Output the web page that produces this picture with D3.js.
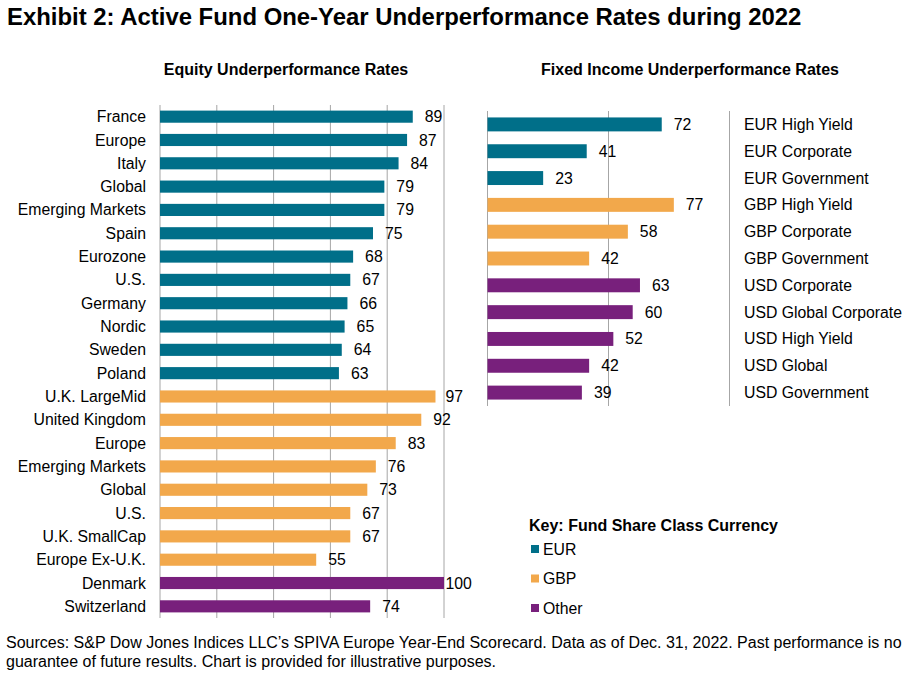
<!DOCTYPE html>
<html>
<head>
<meta charset="utf-8">
<script src="https://cdn.jsdelivr.net/npm/d3@7"></script>
<style>
	body { margin: 0; background: #fff; }
	text { font-family: "Liberation Sans", Arial, sans-serif; fill: #000; }
</style>
</head>
<body>
<div id="chart"></div>
<script>

const equityCats = ["France", "Europe", "Italy", "Global", "Emerging Markets", "Spain", "Eurozone", "U.S.", "Germany", "Nordic", "Sweden", "Poland",
	"U.K. LargeMid", "United Kingdom", "Europe ", "Emerging Markets ", "Global ", "U.S. ", "U.K. SmallCap", "Europe Ex-U.K.", "Denmark", "Switzerland"];
const equityVals = [89, 87, 84, 79, 79, 75, 68, 67, 66, 65, 64, 63, 97, 92, 83, 76, 73, 67, 67, 55, 100, 74];
const equityGroup = ["EUR", "EUR", "EUR", "EUR", "EUR", "EUR", "EUR", "EUR", "EUR", "EUR", "EUR", "EUR",
	"GBP", "GBP", "GBP", "GBP", "GBP", "GBP", "GBP", "GBP", "Other", "Other"];

const fixedCats = ["EUR High Yield", "EUR Corporate", "EUR Government", "GBP High Yield", "GBP Corporate", "GBP Government",
	"USD Corporate", "USD Global Corporate", "USD High Yield", "USD Global", "USD Government"];
const fixedVals = [72, 41, 23, 77, 58, 42, 63, 60, 52, 42, 39];
const fixedGroup = ["EUR", "EUR", "EUR", "GBP", "GBP", "GBP", "Other", "Other", "Other", "Other", "Other"];

const legendKeys = ["EUR", "GBP", "Other"];
const equityTicks = [0, 20, 40, 60, 80, 100];
const fixedTicks = [0, 50, 100];

const colour = d3.scaleOrdinal()
	.domain(legendKeys)
	.range(["#006f89", "#f2a84b", "#78207c"]);

const width = 924, height = 682;
const gridColour = "#a6a6a6";
const labelSize = "15.8px";

const svg = d3.select("#chart").append("svg")
	.attr("width", width)
	.attr("height", height);

// title
svg.append("text")
	.attr("x", 7).attr("y", 25)
	.style("font-size", "23.9px").style("font-weight", "bold")
	.text("Exhibit 2: Active Fund One-Year Underperformance Rates during 2022");

svg.append("text")
	.attr("x", 286).attr("y", 75).attr("text-anchor", "middle")
	.style("font-size", "16px").style("font-weight", "bold")
	.text("Equity Underperformance Rates");

svg.append("text")
	.attr("x", 690).attr("y", 75).attr("text-anchor", "middle")
	.style("font-size", "16px").style("font-weight", "bold")
	.text("Fixed Income Underperformance Rates");

// left chart - equity
const xEq = d3.scaleLinear().domain([0, 100]).range([160, 444]);
const yEq = d3.scaleBand().domain(equityCats).range([105, 618]).paddingInner(0.48).paddingOuter(0.24);

const gEq = svg.append("g");

gEq.selectAll(".grid")
	.data(equityTicks)
	.enter()
		.append("line")
		.attr("x1", d => xEq(d)).attr("x2", d => xEq(d))
		.attr("y1", 105).attr("y2", 618)
		.style("stroke", gridColour).style("stroke-width", 1);

gEq.selectAll("rect")
	.data(equityCats)
	.enter()
		.append("rect")
		.attr("x", xEq(0))
		.attr("y", d => yEq(d))
		.attr("width", (d, i) => xEq(equityVals[i]) - xEq(0))
		.attr("height", yEq.bandwidth())
		.style("fill", (d, i) => colour(equityGroup[i]));

gEq.selectAll(".cat")
	.data(equityCats)
	.enter()
		.append("text")
		.attr("x", 146)
		.attr("y", d => yEq(d) + yEq.bandwidth() / 2)
		.attr("dy", "0.35em")
		.attr("text-anchor", "end")
		.style("font-size", labelSize)
		.text(d => d.trim());

gEq.selectAll(".val")
	.data(equityVals)
	.enter()
		.append("text")
		// labels that would run past the plot get pulled back to its edge
		.attr("x", d => Math.min(xEq(d) + 12, xEq(100) + 1.5))
		.attr("y", (d, i) => yEq(equityCats[i]) + yEq.bandwidth() / 2)
		.attr("dy", "0.35em")
		.style("font-size", labelSize)
		.text(d => d);

// right chart - fixed income
const xFi = d3.scaleLinear().domain([0, 100]).range([487.5, 729.5]);
const yFi = d3.scaleBand().domain(fixedCats).range([111, 406]).paddingInner(0.48).paddingOuter(0.24);

const gFi = svg.append("g");

gFi.selectAll(".grid")
	.data(fixedTicks)
	.enter()
		.append("line")
		.attr("x1", d => xFi(d)).attr("x2", d => xFi(d))
		.attr("y1", 111).attr("y2", 406)
		.style("stroke", gridColour).style("stroke-width", 1);

gFi.selectAll("rect")
	.data(fixedCats)
	.enter()
		.append("rect")
		.attr("x", xFi(0))
		.attr("y", d => yFi(d))
		.attr("width", (d, i) => xFi(fixedVals[i]) - xFi(0))
		.attr("height", yFi.bandwidth())
		.style("fill", (d, i) => colour(fixedGroup[i]));

gFi.selectAll(".cat")
	.data(fixedCats)
	.enter()
		.append("text")
		.attr("x", 744)
		.attr("y", d => yFi(d) + yFi.bandwidth() / 2)
		.attr("dy", "0.35em")
		.style("font-size", labelSize)
		.text(d => d);

gFi.selectAll(".val")
	.data(fixedVals)
	.enter()
		.append("text")
		.attr("x", d => xFi(d) + 12)
		.attr("y", (d, i) => yFi(fixedCats[i]) + yFi.bandwidth() / 2)
		.attr("dy", "0.35em")
		.style("font-size", labelSize)
		.text(d => d);

// legend
const legend = svg.append("g");

legend.append("text")
	.attr("x", 529).attr("y", 531)
	.style("font-size", "16px").style("font-weight", "bold")
	.text("Key: Fund Share Class Currency");

const yLeg = d3.scalePoint().domain(legendKeys).range([549, 608]);

legend.selectAll("rect")
	.data(legendKeys)
	.enter()
		.append("rect")
		.attr("x", 531)
		.attr("y", d => yLeg(d) - 4)
		.attr("width", 8).attr("height", 8)
		.style("fill", d => colour(d));

legend.selectAll(".leg")
	.data(legendKeys)
	.enter()
		.append("text")
		.attr("x", 543)
		.attr("y", d => yLeg(d))
		.attr("dy", "0.35em")
		.style("font-size", labelSize)
		.text(d => d);

// footer
const footer = svg.append("text")
	.attr("x", 6).attr("y", 648)
	.style("font-size", "16px");

footer.append("tspan")
	.text("Sources: S&P Dow Jones Indices LLC\u2019s SPIVA Europe Year-End Scorecard. Data as of Dec. 31, 2022. Past performance is no");
footer.append("tspan")
	.attr("x", 6).attr("dy", 19)
	.text("guarantee of future results. Chart is provided for illustrative purposes.");

</script>
</body>
</html>
